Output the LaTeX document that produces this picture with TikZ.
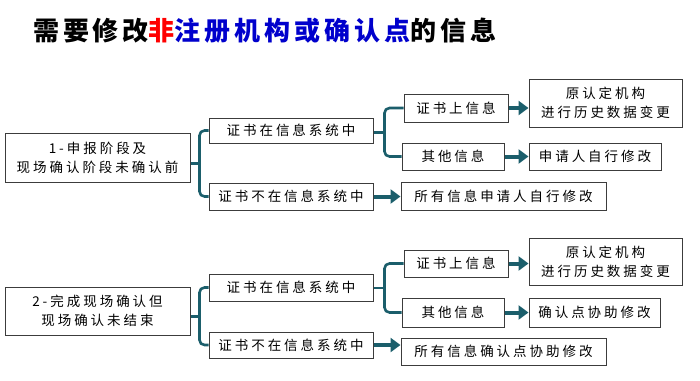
\documentclass[tikz,border=0pt]{standalone}
\usepackage{fontspec}
\newfontfamily\cjk[LetterSpace=22]{Noto Sans CJK SC}
\newfontfamily\cjktitle[LetterSpace=15]{Noto Sans CJK SC}
\usetikzlibrary{arrows.meta,calc}
\definecolor{tealline}{HTML}{1B5E6B}
\definecolor{boxline}{HTML}{3C3C3C}
\definecolor{titleblue}{HTML}{0000CC}
\begin{document}
\begin{tikzpicture}[x=1pt,y=-1pt,
  box/.style={rectangle,draw=boxline,line width=1pt,inner sep=0pt,align=center,
              font=\cjk\fontsize{13.5}{19}\selectfont},
  brk/.style={draw=tealline,line width=2.6pt,rounded corners=5pt},
  arr/.style={draw=tealline,line width=4pt,-{Triangle[length=10pt,width=14pt]}}]
\useasboundingbox (0,0) rectangle (700,380);
% title
\node[anchor=west,inner sep=0pt,font=\cjktitle\bfseries\fontsize{26}{30}\selectfont] (title) at (33,31)
  {需要修改\textcolor{red}{非}\textcolor{titleblue}{注册机构或确认点}的信息};
% group 1
\node[box,minimum width=185pt,minimum height=49pt] (a1) at (97.5,157.5) {1-申报阶段及\\现场确认阶段未确认前};
\node[box,minimum width=164pt,minimum height=25pt] (b1) at (291,130.5) {证书在信息系统中};
\node[box,minimum width=164pt,minimum height=27pt] (c1) at (291,196.5) {证书不在信息系统中};
\node[box,minimum width=104pt,minimum height=28pt] (d1) at (456,108) {证书上信息};
\node[box,minimum width=102pt,minimum height=27pt] (e1) at (453,156.5) {其他信息};
\node[box,minimum width=153pt,minimum height=48pt] (f1) at (605.5,103) {原认定机构\\进行历史数据变更};
\node[box,minimum width=132pt,minimum height=27pt] (g1) at (595,156.5) {申请人自行修改};
\node[box,minimum width=205pt,minimum height=28pt] (h1) at (503.5,196) {所有信息申请人自行修改};
\draw[brk] (b1.west) -- ++(-9,0) |- (c1.west);
\coordinate (k1) at ($(b1.west)!0.5!(c1.west)+(-9,0)$);
\draw[brk] (a1.east |- k1) -- (k1);
\draw[brk] (d1.west) -- ++(-19,0) |- (e1.west);
\coordinate (m1) at ($(d1.west)!0.5!(e1.west)+(-17,0)$);
\draw[brk] (b1.east |- m1) -- (m1);
\draw[arr] (d1.east) -- (d1.east -| f1.west);
\draw[arr] (e1.east) -- (e1.east -| g1.west);
\draw[arr] (c1.east) -- (c1.east -| h1.west);
% group 2
\node[box,minimum width=185pt,minimum height=48pt] (a2) at (97.5,311) {2-完成现场确认但\\现场确认未结束};
\node[box,minimum width=164pt,minimum height=27pt] (b2) at (291,287.5) {证书在信息系统中};
\node[box,minimum width=164pt,minimum height=26pt] (c2) at (291,345) {证书不在信息系统中};
\node[box,minimum width=104pt,minimum height=27pt] (d2) at (456,263.5) {证书上信息};
\node[box,minimum width=102pt,minimum height=29pt] (e2) at (453,312.5) {其他信息};
\node[box,minimum width=153pt,minimum height=47pt] (f2) at (605.5,261.5) {原认定机构\\进行历史数据变更};
\node[box,minimum width=131pt,minimum height=29pt] (g2) at (594.5,312.5) {确认点协助修改};
\node[box,minimum width=205pt,minimum height=27pt] (h2) at (503.5,351.5) {所有信息确认点协助修改};
\draw[brk] (b2.west) -- ++(-9,0) |- (c2.west);
\coordinate (k2) at ($(b2.west)!0.5!(c2.west)+(-9,0)$);
\draw[brk] (a2.east |- k2) -- (k2);
\draw[brk] (d2.west) -- ++(-19,0) |- (e2.west);
\coordinate (m2) at ($(d2.west)!0.5!(e2.west)+(-17,0)$);
\draw[brk] (b2.east |- m2) -- (m2);
\draw[arr] (d2.east) -- (d2.east -| f2.west);
\draw[arr] (e2.east) -- (e2.east -| g2.west);
\draw[arr] (c2.east) -- (c2.east -| h2.west);
\end{tikzpicture}
\end{document}
